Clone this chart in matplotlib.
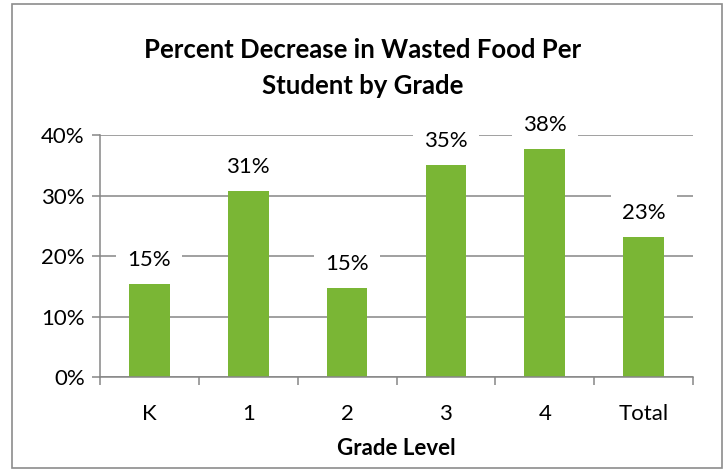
import matplotlib
matplotlib.use("Agg")
import matplotlib.pyplot as plt
from matplotlib.patches import Rectangle
from matplotlib.ticker import PercentFormatter, FixedLocator

plt.rcParams['font.family'] = ['Lato', 'DejaVu Sans']

categories = ["K", "1", "2", "3", "4", "Total"]
values = [0.154, 0.307, 0.148, 0.351, 0.377, 0.232]
labels = ["15%", "31%", "15%", "35%", "38%", "23%"]
yticks = [0.0, 0.1, 0.2, 0.3, 0.4]

green = "#7AB635"
grid = "#868686"

fig = plt.figure(figsize=(7.25, 4.72), dpi=100)
fig.patches.append(Rectangle((12/725, 4/472), (722-12)/725, (468-4)/472,
                             transform=fig.transFigure, fill=False,
                             edgecolor="#8c8c8c", linewidth=1.2))
ax = fig.add_axes([100/725, 1-377.3/472, 593/725, (377.3-135)/472])
x = list(range(len(categories)))
ax.bar(x, values, width=0.41, color=green, zorder=2)
ax.set_xlim(-0.5, len(categories)-0.5)
ax.set_ylim(0, 0.4)
ax.yaxis.set_major_locator(FixedLocator(yticks))
ax.yaxis.set_major_formatter(PercentFormatter(1.0, decimals=0))
ax.grid(axis='y', color=grid, linewidth=1.1, zorder=0)
ax.set_axisbelow(True)
for s in ['top', 'right']:
    ax.spines[s].set_visible(False)
for s in ['left', 'bottom']:
    ax.spines[s].set_color(grid)
    ax.spines[s].set_linewidth(1.1)
ax.set_xticks(x)
ax.set_xticklabels(categories, fontsize=16)
ax.set_xticks([i - 0.5 for i in range(len(categories)+1)], minor=True)
ax.tick_params(axis='x', which='major', length=0, pad=19)
ax.tick_params(axis='x', which='minor', length=6, color=grid, width=1.1)
ax.tick_params(axis='y', length=6, color=grid, width=1.1, labelsize=16, pad=5)

for xi, v, lab in zip(x, values, labels):
    ax.annotate(lab, (xi, v), xytext=(0, 13), textcoords='offset points',
                ha='center', va='baseline', fontsize=16, zorder=3,
                bbox=dict(boxstyle='square,pad=0.5', fc='white', ec='none'))

ax.set_xlabel("Grade Level", fontsize=16, fontweight='bold', labelpad=10)
fig.text(0.5, 1-50/472, "Percent Decrease in Wasted Food Per", ha='center',
         va='center', fontsize=18.5, fontweight='bold')
fig.text(0.5, 1-86/472, "Student by Grade", ha='center',
         va='center', fontsize=18.5, fontweight='bold')

fig.savefig("out.png", dpi=100)
